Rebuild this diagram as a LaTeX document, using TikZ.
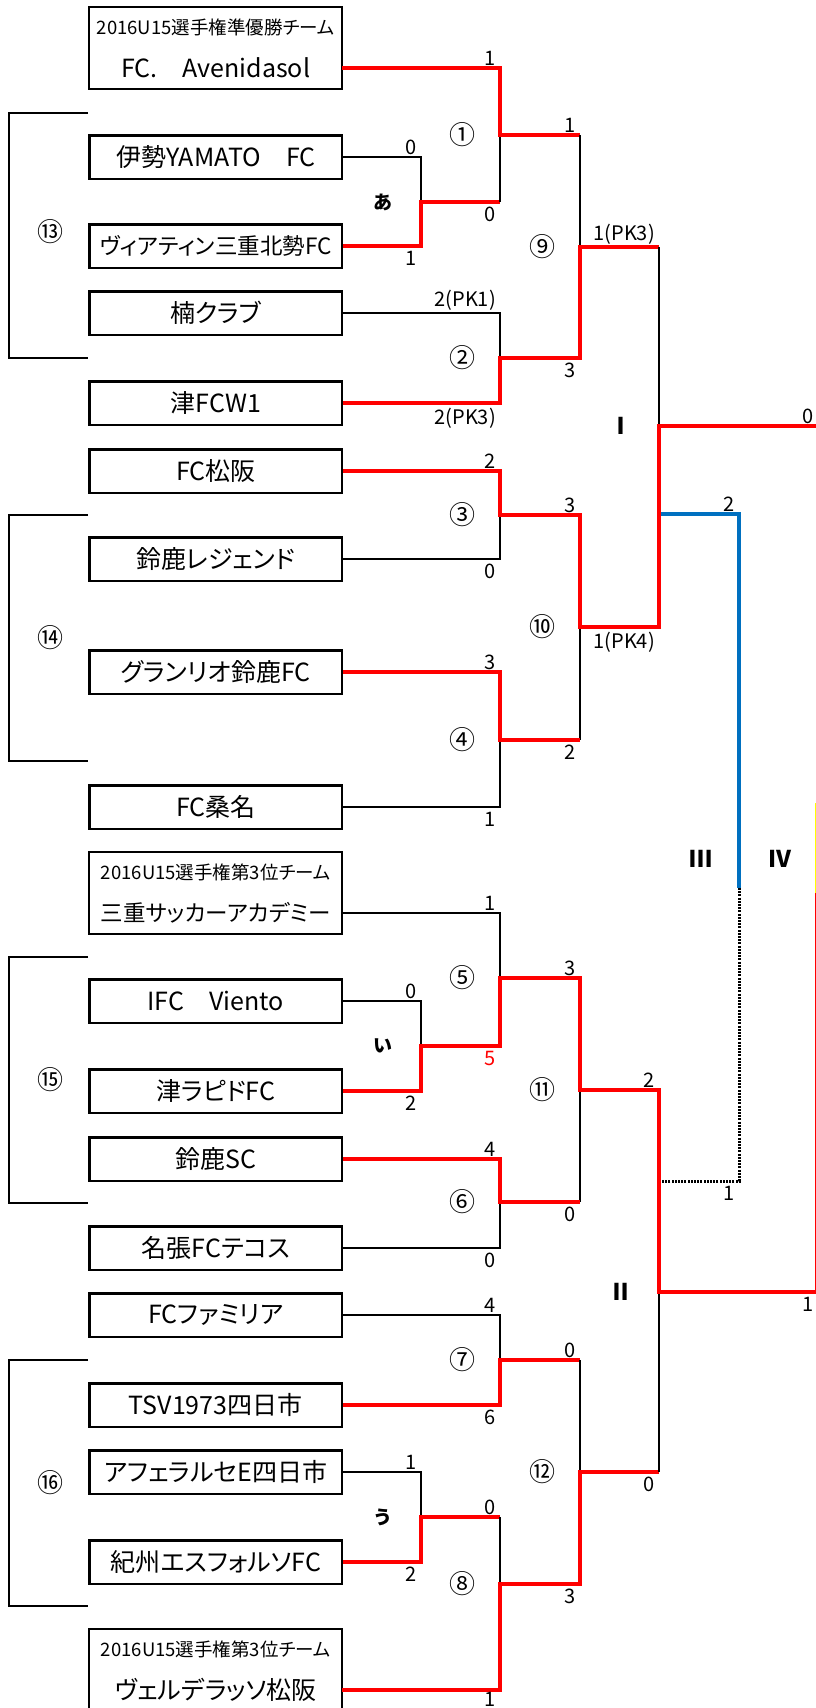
\documentclass[tikz,border=0pt]{standalone}
\usepackage{fontspec}
\setmainfont{Noto Sans CJK JP}[RawFeature=+palt]
\usetikzlibrary{positioning}
\definecolor{winred}{RGB}{255,0,0}
\definecolor{thirdblue}{RGB}{0,112,192}
\definecolor{hiyellow}{RGB}{255,255,0}
\newcommand{\namefont}{\fontsize{25}{28}\selectfont}
\newcommand{\longfont}{\fontsize{22.5}{26}\selectfont}
\newcommand{\capfont}{\fontsize{18.5}{20}\selectfont}
\newcommand{\scorefont}{\fontsize{20}{20}\selectfont}
\tikzstyle{block} = [
        draw, line width=2.3pt, rectangle, minimum height=43.3pt,
        minimum width=252.5pt, inner sep=0pt, font=\namefont
    ]
\tikzstyle{namerow} = [
        rectangle, minimum height=41.5pt, minimum width=252.5pt,
        inner sep=0pt, font=\namefont
    ]
\tikzstyle{caprow} = [
        rectangle, minimum height=40pt, minimum width=252.5pt,
        inner sep=0pt, font=\capfont
    ]
\tikzstyle{longname} = [font=\longfont]
\tikzstyle{dblframe} = [draw, line width=2.3pt]
\tikzstyle{lose} = [line width=2pt]
\tikzstyle{win} = [line width=4.5pt, color=winred]
\tikzstyle{third} = [line width=4.5pt, color=thirdblue]
\tikzstyle{undecided} = [line width=3pt, dash pattern=on 2pt off 1.2pt]
\tikzstyle{grp} = [line width=2.3pt]
\tikzstyle{topsc} = [anchor=south east, inner sep=0pt, xshift=-4pt, yshift=2pt, font=\scorefont]
\tikzstyle{botsc} = [anchor=north east, inner sep=0pt, xshift=-4pt, yshift=-5pt, font=\scorefont]
\tikzstyle{mnum} = [xshift=-38pt, inner sep=0pt, font=\fontsize{26}{26}\selectfont]
\tikzstyle{rnd} = [xshift=-38pt, inner sep=0pt, font=\bfseries\fontsize{23}{23}\selectfont]
\tikzstyle{kana} = [xshift=-38pt, inner sep=0pt, font=\bfseries\fontsize{19}{19}\selectfont]
\tikzstyle{gnum} = [inner sep=0pt, font=\fontsize{26}{26}\selectfont]

\begin{document}
\begin{tikzpicture}[x=1pt, y=-1pt]
        \useasboundingbox (0,0) rectangle (816,1708);
        \node [namerow] (t1) at (215.75,68) {FC.　Avenidasol};
        \node [caprow, above of=t1, node distance=40.75pt] (c1) {2016U15選手権準優勝チーム};
        \node [block, below of=t1, node distance=89pt] (t2) {伊勢YAMATO　FC};
        \node [block, longname, below of=t2, node distance=89pt] (t3) {ヴィアティン三重北勢FC};
        \node [block, below of=t3, node distance=67pt] (t4) {楠クラブ};
        \node [block, below of=t4, node distance=90pt] (t5) {津FCW1};
        \node [block, below of=t5, node distance=68pt] (t6) {FC松阪};
        \node [block, below of=t6, node distance=88pt] (t7) {鈴鹿レジェンド};
        \node [block, below of=t7, node distance=113pt] (t8) {グランリオ鈴鹿FC};
        \node [block, below of=t8, node distance=135pt] (t9) {FC桑名};
        \node [namerow, longname, below of=t9, node distance=106pt] (t10) {三重サッカーアカデミー};
        \node [caprow, above of=t10, node distance=40.75pt] (c10) {2016U15選手権第3位チーム};
        \node [block, below of=t10, node distance=88pt] (t11) {IFC　Viento};
        \node [block, below of=t11, node distance=90pt] (t12) {津ラピドFC};
        \node [block, below of=t12, node distance=68pt] (t13) {鈴鹿SC};
        \node [block, below of=t13, node distance=89pt] (t14) {名張FCテコス};
        \node [block, below of=t14, node distance=67pt] (t15) {FCファミリア};
        \node [block, below of=t15, node distance=90pt] (t16) {TSV1973四日市};
        \node [block, below of=t16, node distance=67pt] (t17) {アフェラルセE四日市};
        \node [block, below of=t17, node distance=90pt] (t18) {紀州エスフォルソFC};
        \node [namerow, below of=t18, node distance=128pt] (t19) {ヴェルデラッソ松阪};
        \node [caprow, above of=t19, node distance=40.75pt] (c19) {2016U15選手権第3位チーム};
        \draw [dblframe] (c1.north west) rectangle (t1.south east);
        \draw [dblframe] (c10.north west) rectangle (t10.south east);
        \draw [dblframe] (c19.north west) rectangle (t19.south east);

        \draw [grp] (88,113) -| (9,358) -- (88,358);
        \draw [grp] (88,515) -| (9,761) -- (88,761);
        \draw [grp] (88,957) -| (9,1203) -- (88,1203);
        \draw [grp] (88,1360) -| (9,1606) -- (88,1606);
        \node [gnum] at (50,232) {⑬};
        \node [gnum] at (50,638) {⑭};
        \node [gnum] at (50,1080) {⑮};
        \node [gnum] at (50,1483) {⑯};

        \coordinate (ma) at (421,202);
        \coordinate (m1) at (500,135);
        \coordinate (m2) at (500,358);
        \coordinate (m3) at (500,515);
        \coordinate (m4) at (500,740);
        \coordinate (m9) at (580,247);
        \coordinate (m10) at (580,627);
        \coordinate (mI) at (659,426);
        \coordinate (mb) at (421,1046);
        \coordinate (m5) at (500,978);
        \coordinate (m6) at (500,1202);
        \coordinate (m7) at (500,1360);
        \coordinate (mc) at (421,1517);
        \coordinate (m8) at (500,1584);
        \coordinate (m11) at (580,1090);
        \coordinate (m12) at (580,1472);
        \coordinate (mII) at (659,1292);
        \coordinate (r3) at (739,514);
        \coordinate (r3e) at (739,888);
        \coordinate (r3b) at (739,1181);
        \coordinate (mF) at (817.5,859);
        \coordinate (fy1) at (817.5,803);
        \coordinate (fy2) at (817.5,893);

        \draw [third] (r3 -| mI) -- (r3) -- (r3e);
        \draw [undecided] (r3e) -- (r3b) -- (r3b -| mII);

        \draw [lose] (t2.east) -| (ma);
        \draw [win] (t3.east) -| (ma) -- (ma -| m1);
        \draw [lose] (ma -| m1) -- (m1);
        \draw [win] (t1.east) -| (m1) -- (m1 -| m9);
        \draw [lose] (m1 -| m9) -- (m9);
        \draw [lose] (t4.east) -| (m2);
        \draw [win] (t5.east) -| (m2) -- (m2 -| m9) -- (m9) -- (m9 -| mI);
        \draw [lose] (m9 -| mI) -- (mI);
        \draw [lose] (t7.east) -| (m3);
        \draw [lose] (t9.east) -| (m4);
        \draw [lose] (m4 -| m10) -- (m10);
        \draw [win] (t8.east) -| (m4) -- (m4 -| m10);
        \draw [win] (t6.east) -| (m3) -- (m3 -| m10) -- (m10) -- (m10 -| mI) -- (mI) -- (mI -| mF);

        \draw [lose] (t10.east) -| (m5);
        \draw [lose] (t11.east) -| (mb);
        \draw [lose] (t14.east) -| (m6);
        \draw [lose] (m6 -| m11) -- (m11);
        \draw [win] (t13.east) -| (m6) -- (m6 -| m11);
        \draw [lose] (t15.east) -| (m7);
        \draw [win] (t16.east) -| (m7) -- (m7 -| m12);
        \draw [lose] (m7 -| m12) -- (m12);
        \draw [lose] (t17.east) -| (mc);
        \draw [win] (t18.east) -| (mc) -- (mc -| m8);
        \draw [lose] (mc -| m8) -- (m8);
        \draw [win] (t19.east) -| (m8) -- (m8 -| m12) -- (m12) -- (m12 -| mII);
        \draw [lose] (m12 -| mII) -- (mII);
        \draw [win] (t12.east) -| (mb) -- (mb -| m5) -- (m5) -- (m5 -| m11) -- (m11)
            -- (m11 -| mII) -- (mII) -- (mII -| mF) -- (fy2);
        \draw [line width=6pt, hiyellow] (fy1) -- (fy2);

        \node [topsc] at (m1 |- t1) {1};
        \node [botsc] at (ma -| m1) {0};
        \node [topsc] at (ma |- t2) {0};
        \node [botsc] at (ma |- t3) {1};
        \node [topsc] at (m2 |- t4) {2(PK1)};
        \node [botsc] at (m2 |- t5) {2(PK3)};
        \node [topsc] at (m1 -| m9) {1};
        \node [botsc] at (m2 -| m9) {3};
        \node [topsc] at (m3 |- t6) {2};
        \node [botsc] at (m3 |- t7) {0};
        \node [topsc] at (m4 |- t8) {3};
        \node [botsc] at (m4 |- t9) {1};
        \node [topsc] at (m3 -| m10) {3};
        \node [botsc] at (m4 -| m10) {2};
        \node [topsc] at (m9 -| mI) {1(PK3)};
        \node [botsc] at (m10 -| mI) {1(PK4)};
        \node [topsc] at (r3) {2};
        \node [botsc] at (r3b) {1};
        \node [topsc] at (mI -| mF) {0};
        \node [botsc] at (mII -| mF) {1};
        \node [topsc] at (m5 |- t10) {1};
        \node [botsc, text=winred] at (mb -| m5) {5};
        \node [topsc] at (mb |- t11) {0};
        \node [botsc] at (mb |- t12) {2};
        \node [topsc] at (m6 |- t13) {4};
        \node [botsc] at (m6 |- t14) {0};
        \node [topsc] at (m5 -| m11) {3};
        \node [botsc] at (m6 -| m11) {0};
        \node [topsc] at (m7 |- t15) {4};
        \node [botsc] at (m7 |- t16) {6};
        \node [topsc] at (mc |- t17) {1};
        \node [botsc] at (mc |- t18) {2};
        \node [topsc] at (mc -| m8) {0};
        \node [botsc, yshift=3pt] at (m8 |- t19) {1};
        \node [topsc] at (m7 -| m12) {0};
        \node [botsc] at (m8 -| m12) {3};
        \node [topsc] at (m11 -| mII) {2};
        \node [botsc] at (m12 -| mII) {0};

        \node [kana] at (ma) {あ};
        \node [kana] at (mb) {い};
        \node [kana] at (mc) {う};
        \node [mnum] at (m1) {①};
        \node [mnum] at (m2) {②};
        \node [mnum] at (m3) {③};
        \node [mnum] at (m4) {④};
        \node [mnum] at (m5) {⑤};
        \node [mnum] at (m6) {⑥};
        \node [mnum] at (m7) {⑦};
        \node [mnum] at (m8) {⑧};
        \node [mnum] at (m9) {⑨};
        \node [mnum] at (m10) {⑩};
        \node [mnum] at (m11) {⑪};
        \node [mnum] at (m12) {⑫};
        \node [rnd] at (mI) {Ⅰ};
        \node [rnd] at (mII) {Ⅱ};
        \node [rnd] at (r3 |- mF) {Ⅲ};
        \node [rnd] at (mF) {Ⅳ};
    \end{tikzpicture}
\end{document}
